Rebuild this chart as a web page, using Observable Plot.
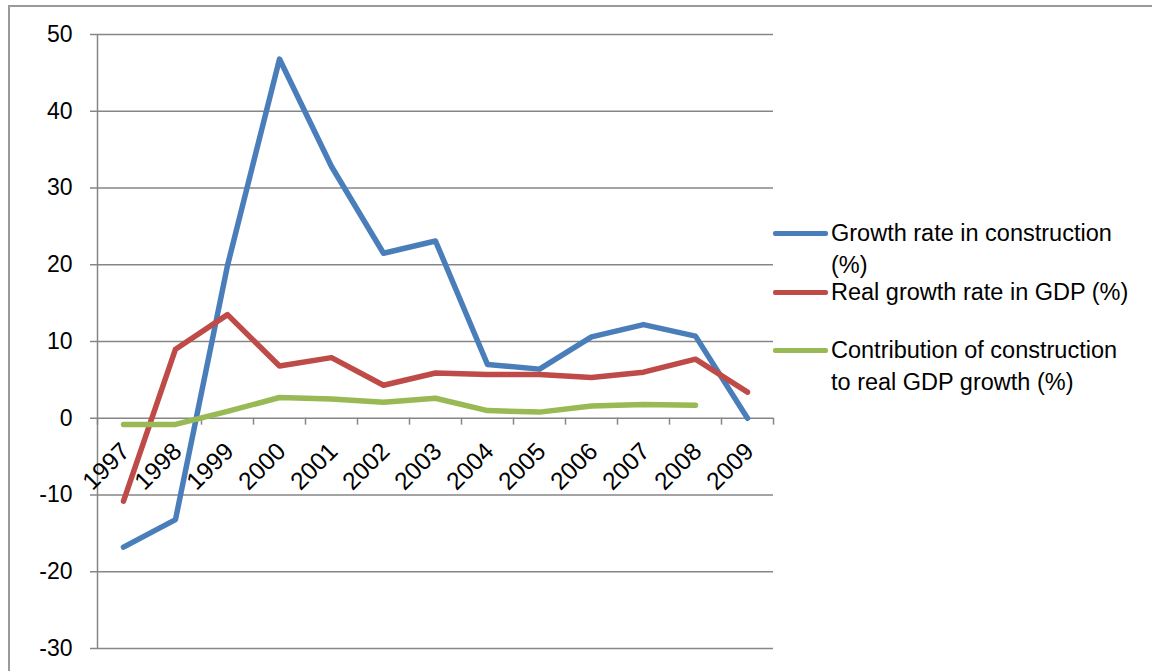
<!DOCTYPE html>
<html>
<head>
<meta charset="utf-8">
<script src="https://cdn.jsdelivr.net/npm/d3@7"></script>
<script src="https://cdn.jsdelivr.net/npm/@observablehq/plot@0.6"></script>
<style>
  html, body { margin: 0; padding: 0; background: #fff; }
  #wrap { position: relative; width: 1152px; height: 671px; overflow: hidden; font-family: "Liberation Sans", Arial, sans-serif; }
  #border { position: absolute; left: 8px; top: 5px; width: 1200px; height: 700px; border-left: 2px solid #9a9a9a; border-top: 2px solid #9a9a9a; }
  #legend { position: absolute; left: 773px; top: 0; }
  .item { position: absolute; left: 0; white-space: nowrap; font-size: 23.5px; line-height: 32px; color: #000; }
  .item .sw { position: absolute; left: 0; width: 55px; height: 5px; border-radius: 2px; }
  .item .tx { position: absolute; left: 58px; }
</style>
</head>
<body>
<div id="wrap">
  <div id="border"></div>
  <div id="chart"></div>
  <div id="legend"></div>
</div>
<script>
const years = ["1997","1998","1999","2000","2001","2002","2003","2004","2005","2006","2007","2008","2009"];
const constructionGrowth = [-16.8, -13.2, 19.9, 46.8, 32.8, 21.5, 23.1, 7.0, 6.4, 10.6, 12.2, 10.7, 0.0];
const gdpGrowth = [-10.8, 9.0, 13.5, 6.8, 7.9, 4.3, 5.9, 5.7, 5.7, 5.3, 6.0, 7.7, 3.4];
const constructionContribution = [-0.8, -0.8, 0.9, 2.7, 2.5, 2.1, 2.6, 1.0, 0.8, 1.6, 1.8, 1.7];
const yTicks = [-30, -20, -10, 0, 10, 20, 30, 40, 50];
const seriesNames = ["Growth rate in construction (%)", "Real growth rate in GDP (%)", "Contribution of construction to real GDP growth (%)"];
const seriesColors = ["#4A7EBB", "#BE4B48", "#98B954"];

const rows = [];
[constructionGrowth, gdpGrowth, constructionContribution].forEach((arr, s) => {
  arr.forEach((v, i) => rows.push({series: seriesNames[s], year: years[i], value: v}));
});

const W = 1152, H = 671, mL = 97, mR = 379, mT = 34, mB = 23;
const step = (W - mL - mR) / years.length;
const font = "Liberation Sans, Arial, sans-serif";

const chart = Plot.plot({
  width: W, height: H,
  marginLeft: mL, marginRight: mR, marginTop: mT, marginBottom: mB,
  style: {fontFamily: font, background: "transparent"},
  x: {type: "point", domain: years, padding: 0.5, axis: null},
  y: {domain: [-30, 50], axis: null},
  color: {domain: seriesNames, range: seriesColors},
  marks: [
    Plot.gridY(yTicks, {stroke: "#868686", strokeOpacity: 1, strokeWidth: 1.5}),
    Plot.axisY(yTicks, {label: null, tickSize: 7, tickPadding: 18, stroke: "#868686", strokeOpacity: 1, strokeWidth: 1.5, fill: "#000", fontSize: 23, tickFormat: d => String(d).replace("\u2212", "-")}),
    Plot.ruleX([years[0]], {dx: -step / 2, stroke: "#868686", strokeWidth: 1.5}),
    Plot.ruleX(years, {x: d => d, y1: 0, y2: -0.9, dx: -step / 2, stroke: "#868686", strokeWidth: 1.5}),
    Plot.ruleX([years[years.length - 1]], {x: d => d, y1: 0, y2: -0.9, dx: step / 2, stroke: "#868686", strokeWidth: 1.5}),
    Plot.text(years, {x: d => d, y: 0, text: d => d, rotate: -45, textAnchor: "end", dx: 2, dy: 29, fontSize: 24.5, fill: "#000"}),
    Plot.line(rows, {x: "year", y: "value", z: "series", stroke: "series", strokeWidth: 5.5, strokeLinejoin: "round", strokeLinecap: "round"})
  ]
});
document.getElementById("chart").appendChild(chart);

const legendItems = [
  {y: 233, lines: ["Growth rate in construction", "(%)"]},
  {y: 292, lines: ["Real growth rate in GDP (%)"]},
  {y: 350, lines: ["Contribution of construction", "to real GDP growth (%)"]}
];
const legend = document.getElementById("legend");
legendItems.forEach((it, i) => {
  const d = document.createElement("div");
  d.className = "item";
  d.style.top = it.y + "px";
  const sw = document.createElement("div");
  sw.className = "sw";
  sw.style.background = seriesColors[i];
  sw.style.top = "-2.5px";
  d.appendChild(sw);
  const tx = document.createElement("div");
  tx.className = "tx";
  tx.style.top = "-16px";
  tx.innerHTML = it.lines.join("<br>");
  d.appendChild(tx);
  legend.appendChild(d);
});
</script>
</body>
</html>
